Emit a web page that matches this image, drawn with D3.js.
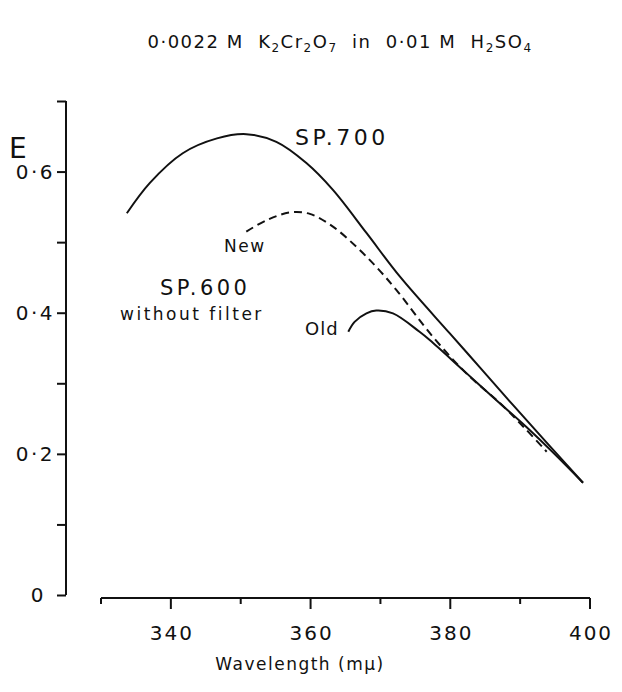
<!DOCTYPE html>
<html><head><meta charset="utf-8">
<script src="https://cdn.jsdelivr.net/npm/d3@7"></script>
<style>
html,body{margin:0;padding:0;background:#fff;}
text{font-family:"DejaVu Sans",sans-serif;fill:#111;}
</style></head>
<body>
<svg id="chart" width="622" height="692"></svg>
<script>
// ---- data ----
const sp700Wavelength = [333.7, 337.0, 341.7, 346.6, 350.8, 355.1, 359.4, 363.2, 368.0, 372.8, 379.9, 384.2, 388.9, 393.8, 399.0];
const sp700E          = [0.541, 0.584, 0.626, 0.647, 0.653, 0.642, 0.612, 0.574, 0.513, 0.451, 0.371, 0.323, 0.270, 0.216, 0.159];
const newWavelength   = [350.8, 353.7, 357.0, 359.9, 363.2, 366.6, 369.4, 372.3, 377.5, 382.3, 387.1, 390.9, 393.8];
const newE            = [0.515, 0.531, 0.542, 0.540, 0.522, 0.493, 0.465, 0.432, 0.366, 0.314, 0.272, 0.234, 0.203];
const oldWavelength   = [365.4, 366.3, 368.0, 369.4, 371.8, 375.6, 377.1, 381.8, 386.6, 390.9, 394.9, 399.0];
const oldE            = [0.373, 0.387, 0.399, 0.403, 0.399, 0.373, 0.361, 0.319, 0.276, 0.238, 0.200, 0.159];
const xMajorTicks = [340, 360, 380, 400];
const xMinorTicks = [330, 350, 370, 390];
const yTicks = [0, 0.1, 0.2, 0.3, 0.4, 0.5, 0.6, 0.7];
const yTickLabels = {0: "0", 0.2: "0·2", 0.4: "0·4", 0.6: "0·6"};

const svg = d3.select("#chart");
const x = d3.scaleLinear().domain([330, 400]).range([101, 590]);
const y = d3.scaleLinear().domain([0, 0.7]).range([595, 101]);
const ink = "#111";

// y axis
const yAxis = d3.axisLeft(y).tickValues(yTicks).tickSize(9).tickFormat("");
const gy = svg.append("g").attr("transform", "translate(66,0)").call(yAxis);
gy.select(".domain").attr("stroke", ink).attr("stroke-width", 2).attr("d", `M0,${y(0.7)}V${y(0)}`);
gy.selectAll(".tick line").attr("stroke", ink).attr("stroke-width", 2);
yTicks.filter(t => yTickLabels[t] !== undefined).forEach(t => {
  svg.append("text").attr("x", t === 0 ? 46 : 55).attr("y", y(t)).attr("dy", "0.36em")
    .attr("text-anchor", "end").attr("font-size", 20).attr("letter-spacing", 2.5)
    .text(yTickLabels[t]);
});

// x axis
const gx = svg.append("g").attr("transform", "translate(0,598)");
gx.append("path").attr("d", `M${x(330)},0H${x(400)}`).attr("stroke", ink).attr("stroke-width", 2).attr("fill", "none");
gx.call(g => g.selectAll(".maj").data(xMajorTicks).join("line").attr("class", "maj")
  .attr("x1", d => x(d)).attr("x2", d => x(d)).attr("y1", 0).attr("y2", 11)
  .attr("stroke", ink).attr("stroke-width", 2));
gx.call(g => g.selectAll(".min").data(xMinorTicks).join("line").attr("class", "min")
  .attr("x1", d => x(d)).attr("x2", d => x(d)).attr("y1", 0).attr("y2", 6)
  .attr("stroke", ink).attr("stroke-width", 2));
gx.selectAll(".lab").data(xMajorTicks).join("text").attr("class", "lab")
  .attr("x", d => x(d) + 1).attr("y", 42).attr("text-anchor", "middle")
  .attr("font-size", 20).attr("letter-spacing", 2).text(d => d);

// curves
const line = d3.line().x(d => x(d[0])).y(d => y(d[1])).curve(d3.curveCatmullRom.alpha(0.5));
const zip = (a, b) => a.map((v, i) => [v, b[i]]);
svg.append("path").attr("d", line(zip(sp700Wavelength, sp700E))).attr("fill", "none").attr("stroke", ink).attr("stroke-width", 2);
svg.append("path").attr("d", line(zip(oldWavelength, oldE))).attr("fill", "none").attr("stroke", ink).attr("stroke-width", 2);
svg.append("path").attr("d", line(zip(newWavelength, newE))).attr("fill", "none").attr("stroke", ink).attr("stroke-width", 2).attr("stroke-dasharray", "8,5");

// labels
function lab(txt, xx, yy, fs, ls) {
  svg.append("text").attr("x", xx).attr("y", yy).attr("font-size", fs).attr("letter-spacing", ls || 0).text(txt);
}
lab("SP.700", 295, 145, 22, 3.5);
lab("New", 224, 252, 17, 1.5);
lab("SP.600", 160, 295, 21, 3.5);
lab("without filter", 120, 320, 17, 2.5);
lab("Old", 305, 335, 18, 1);
lab("E", 9, 158, 28, 0);

// axis title
svg.append("text").attr("x", 300).attr("y", 670).attr("text-anchor", "middle").attr("font-size", 17).attr("letter-spacing", 1.5).text("Wavelength (mμ)");

// chart title with subscripts
const parts = [["0·0022 M  K",0],["2",1],["Cr",0],["2",1],["O",0],["7",1],["  in  0·01 M  H",0],["2",1],["SO",0],["4",1]];
const t = svg.append("text").attr("x", 340).attr("y", 48).attr("text-anchor", "middle")
  .attr("font-size", 18).attr("letter-spacing", 1.5).style("white-space", "pre");
parts.forEach(([s, sub], i) => {
  const prevSub = i > 0 ? parts[i-1][1] : 0;
  t.append("tspan").attr("font-size", sub ? 12 : 18)
   .attr("dy", sub && !prevSub ? 4 : (!sub && prevSub ? -4 : 0)).text(s);
});
</script>
</body></html>
